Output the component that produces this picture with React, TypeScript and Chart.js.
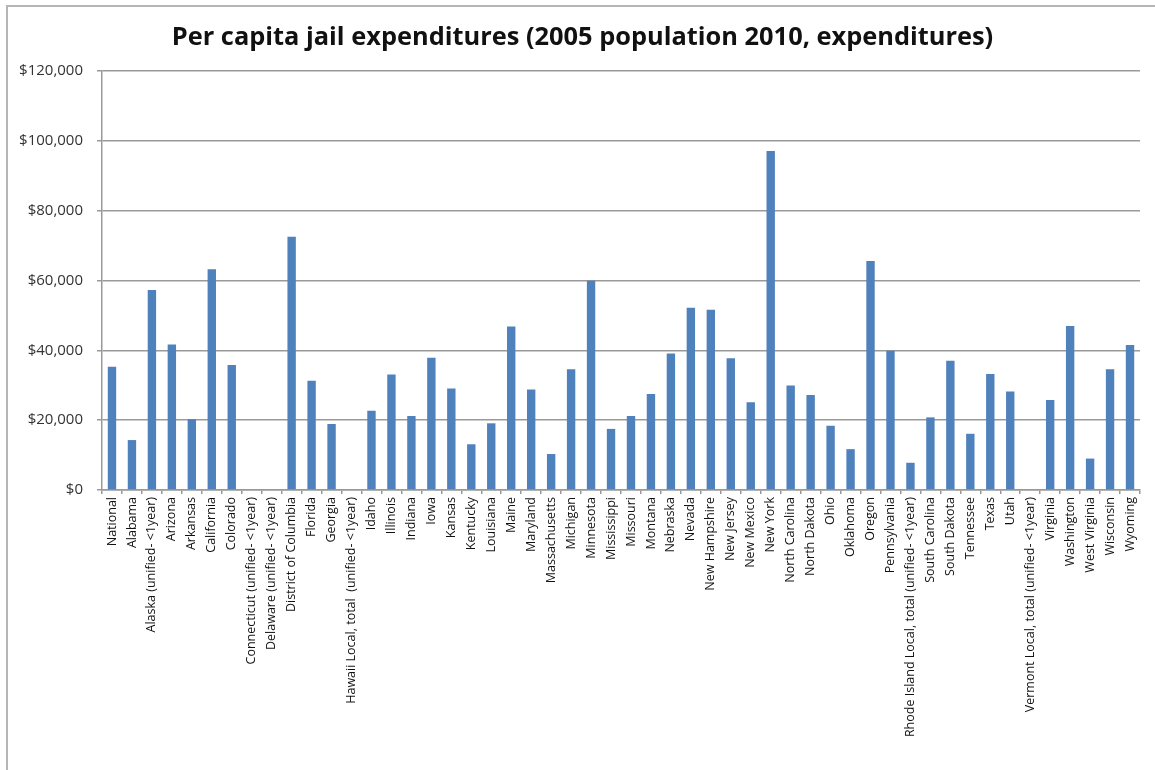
import React, { useEffect, useRef } from "react";
import { Chart, registerables } from "chart.js";

Chart.register(...registerables);

const TITLE = "Per capita jail expenditures (2005 population 2010, expenditures)";

const categories: string[] = [
  "National",
  "Alabama",
  "Alaska (unified- <1year)",
  "Arizona",
  "Arkansas",
  "California",
  "Colorado",
  "Connecticut (unified- <1year)",
  "Delaware (unified- <1year)",
  "District of Columbia",
  "Florida",
  "Georgia",
  "Hawaii Local, total  (unified- <1year)",
  "Idaho",
  "Illinois",
  "Indiana",
  "Iowa",
  "Kansas",
  "Kentucky",
  "Louisiana",
  "Maine",
  "Maryland",
  "Massachusetts",
  "Michigan",
  "Minnesota",
  "Mississippi",
  "Missouri",
  "Montana",
  "Nebraska",
  "Nevada",
  "New Hampshire",
  "New Jersey",
  "New Mexico",
  "New York",
  "North Carolina",
  "North Dakota",
  "Ohio",
  "Oklahoma",
  "Oregon",
  "Pennsylvania",
  "Rhode Island Local, total (unified- <1year)",
  "South Carolina",
  "South Dakota",
  "Tennessee",
  "Texas",
  "Utah",
  "Vermont Local, total (unified- <1year)",
  "Virginia",
  "Washington",
  "West Virginia",
  "Wisconsin",
  "Wyoming",
];

const expenditures: number[] = [
  35300, 14300, 57300, 41700, 20300, 63200, 35800, 0, 0, 72500,
  31300, 18900, 0, 22700, 33100, 21200, 37900, 29100, 13100, 19100,
  46800, 28800, 10300, 34600, 59900, 17500, 21200, 27500, 39100, 52200,
  51600, 37700, 25100, 97100, 29900, 27200, 18400, 11700, 65600, 39900,
  7800, 20800, 37000, 16100, 33200, 28200, 0, 25800, 47000, 9000,
  34600, 41500,
];

const Y_MIN = 0;
const Y_MAX = 120000;
const Y_STEP = 20000;

const titlePlugin = {
  id: "frameTitle",
  afterDraw(chart: any) {
    const ctx = chart.ctx;
    ctx.save();
    ctx.font = "bold 25.4px 'Open Sans', sans-serif";
    ctx.fillStyle = "#111";
    ctx.textAlign = "center";
    ctx.textBaseline = "middle";
    ctx.fillText(TITLE, chart.width / 2 + 5, 38);
    ctx.restore();
  },
};

export default function App() {
  const canvasRef = useRef<HTMLCanvasElement | null>(null);

  useEffect(() => {
    if (!canvasRef.current) return;
    const chart = new Chart(canvasRef.current, {
      type: "bar",
      data: {
        labels: categories,
        datasets: [
          {
            label: "Per capita jail expenditures",
            data: expenditures,
            backgroundColor: "#4F81BD",
            borderWidth: 0,
            barPercentage: 0.42,
            categoryPercentage: 1,
          },
        ],
      },
      plugins: [titlePlugin],
      options: {
        animation: false,
        responsive: false,
        maintainAspectRatio: false,
        layout: { padding: { left: 0, right: 15, top: 71, bottom: 0 } },
        plugins: {
          legend: { display: false },
          tooltip: { enabled: false },
          title: { display: false },
        },
        scales: {
          x: {
            type: "category",
            offset: true,
            grid: {
              display: true,
              offset: true,
              drawOnChartArea: false,
              drawTicks: true,
              tickLength: 4,
              color: "#999",
              lineWidth: 1.5,
            },
            border: { display: true, color: "#999", width: 1.5 },
            ticks: {
              autoSkip: false,
              maxRotation: 90,
              minRotation: 90,
              padding: 3,
              color: "#111",
              font: { family: "'Open Sans', sans-serif", size: 12.5 },
            },
            afterFit: (scale: any) => {
              scale.height = 280;
            },
          },
          y: {
            min: Y_MIN,
            max: Y_MAX,
            ticks: {
              stepSize: Y_STEP,
              padding: 14,
              color: "#333",
              font: { family: "'Open Sans', sans-serif", size: 15 },
              callback: (v: any) => "$" + Number(v).toLocaleString("en-US"),
            },
            grid: {
              color: "#999",
              lineWidth: 1.5,
              tickLength: 5,
            },
            border: { display: true, color: "#999", width: 1.5 },
            afterFit: (scale: any) => {
              scale.width = 102;
            },
          },
        },
      },
    });
    return () => chart.destroy();
  }, []);

  return (
    <div
      style={{
        position: "fixed",
        left: 0,
        top: 0,
        width: 1155,
        height: 770,
        background: "#fff",
        overflow: "hidden",
      }}
    >
      <div
        style={{
          position: "absolute",
          left: 6,
          top: 5,
          width: 1200,
          height: 800,
          borderLeft: "2px solid #b5b5b5",
          borderTop: "2px solid #b5b5b5",
        }}
      />
      <canvas
        ref={canvasRef}
        width={1155}
        height={770}
        style={{ position: "absolute", left: 0, top: 0, width: 1155, height: 770 }}
      />
    </div>
  );
}
